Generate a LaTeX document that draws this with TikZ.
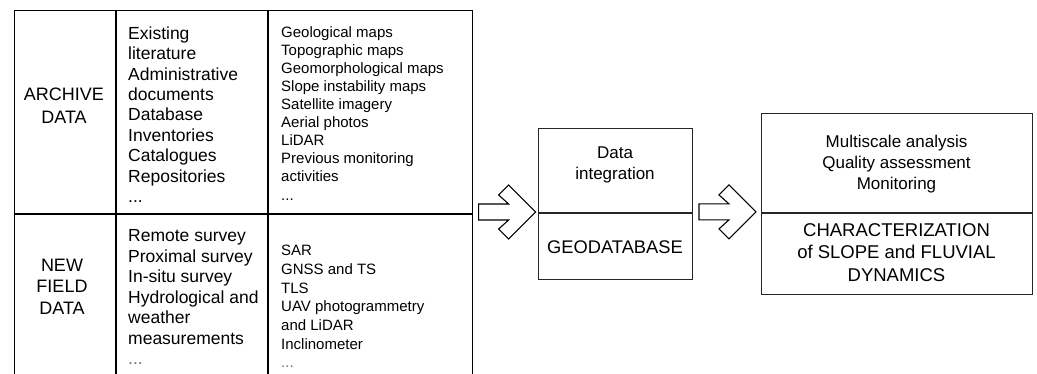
\documentclass[tikz,border=0pt]{standalone}
\usepackage{fontspec}
\setmainfont{Liberation Sans}
\usetikzlibrary{calc, positioning}

\newcommand{\fsize}[2]{\fontsize{#1}{#2}\selectfont}

\tikzset{
    pics/hollowarrow/.style={code={
        \draw[hollow] (-28,-8) -- (2,-8) -- (-8,-17) -- (2,-27) -- (29,0)
            -- (2,27) -- (-8,17) -- (2,8) -- (-28,8) -- cycle;
    }},
}

\begin{document}
\begin{tikzpicture}[x=1pt, y=-1pt,
        cell/.style={rectangle, draw=black, line width=1.1pt, inner sep=0pt, anchor=north west},
        box/.style={rectangle, draw=black!85, line width=0.9pt, inner sep=0pt, anchor=north west},
        heading/.style={align=center, inner sep=0pt, font=\fsize{18}{22.5}},
        item/.style={align=left, anchor=west, inner sep=0pt, font=\fsize{17.5}{20.4}},
        small/.style={align=left, anchor=west, inner sep=0pt, font=\fsize{15}{18.1}},
        boxtext/.style={align=center, inner sep=0pt, font=\fsize{17}{20.5}},
        hollow/.style={draw=black, line width=1.1pt, fill=white, line join=miter},
    ]
    \useasboundingbox (0,0) rectangle (1037,374);
    \clip (0,0) rectangle (1037,374);

    % ====== table ======
    \node[cell, minimum width=101pt, minimum height=203pt] (archlab) at (14,10) {};
    \node[cell, minimum width=151pt, minimum height=203pt] (archgen) at (archlab.north east) {};
    \node[cell, minimum width=204pt, minimum height=203pt] (archsrc) at (archgen.north east) {};
    \node[cell, minimum width=101pt, minimum height=180pt] (fieldlab) at (archlab.south west) {};
    \node[cell, minimum width=151pt, minimum height=180pt] (fieldgen) at (fieldlab.north east) {};
    \node[cell, minimum width=204pt, minimum height=180pt] (fieldsrc) at (fieldgen.north east) {};

    \node[heading] (archtxt) at (64,105.5) {ARCHIVE\\DATA};
    \node[heading, font=\fsize{18}{21.5}] (fieldtxt) at (62,286.5) {NEW\\FIELD\\DATA};

    \node[item] (archgentxt) at (128,114.6) {Existing\\literature\\Administrative\\documents\\Database\\Inventories\\Catalogues\\Repositories\\...};
    \node[small] (archsrctxt) at (281,113.2) {Geological maps\\Topographic maps\\Geomorphological maps\\Slope instability maps\\Satellite imagery\\Aerial photos\\LiDAR\\Previous monitoring\\activities\\...};
    \node[item, font=\fsize{17.5}{20.5}] (fieldgentxt) at (128,297) {Remote survey\\Proximal survey\\In-situ survey\\Hydrological and\\weather\\measurements\\\textcolor{black!55}{...}};
    \node[small, font=\fsize{15}{18.7}] (fieldsrctxt) at (281,306.5) {SAR\\GNSS and TS\\TLS\\UAV photogrammetry\\and LiDAR\\Inclinometer\\\textcolor{black!55}{...}};

    % ====== geodatabase ======
    \node[box, minimum width=154pt, minimum height=84pt] (geotop) at (538,128) {};
    \node[box, minimum width=154pt, minimum height=66pt] (geobot) at (geotop.south west) {};
    \node[boxtext] (geotoptxt) at (615,165) {Data\\integration};
    \node[boxtext, font=\fsize{18.3}{22}] (geobottxt) at (615,247) {GEODATABASE};

    % ====== characterization ======
    \node[box, minimum width=271pt, minimum height=99pt] (chartop) at (761,113) {};
    \node[box, minimum width=271pt, minimum height=81pt] (charbot) at (chartop.south west) {};
    \node[boxtext, font=\fsize{17}{21}] (chartoptxt) at (896.5,164) {Multiscale analysis\\Quality assessment\\Monitoring};
    \node[boxtext, font=\fsize{18.5}{22.5}] (charbottxt) at (896.5,252.6) {CHARACTERIZATION\\of SLOPE and FLUVIAL\\DYNAMICS};

    % ====== arrows ======
    \pic at ($(archsrc.south east)!0.5!(geotop.south west)+(1,-1.5)$) {hollowarrow};
    \pic at ($(geobot.north east)!0.5!(charbot.north west)+(0,-1)$) {hollowarrow};

\end{tikzpicture}
\end{document}
